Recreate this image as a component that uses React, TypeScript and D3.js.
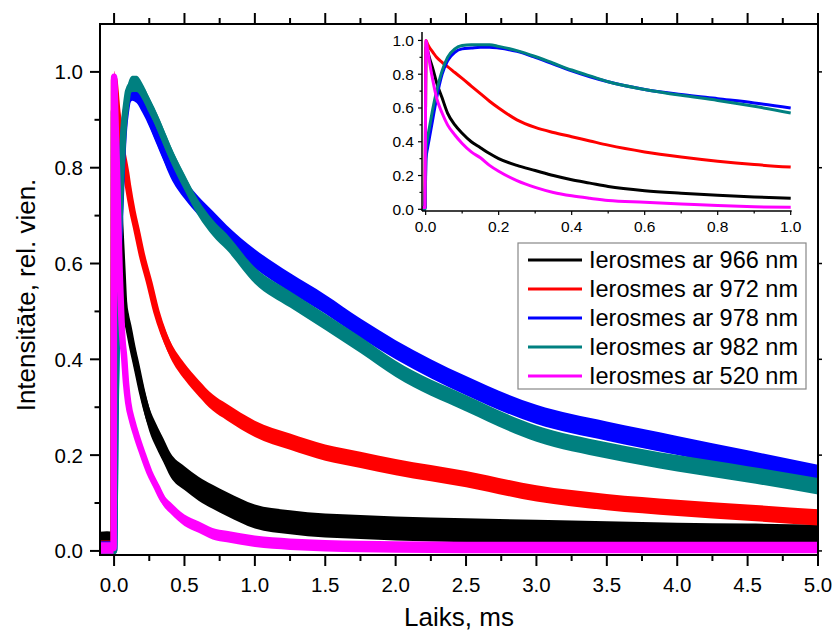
import React from 'react';
import * as d3 from 'd3';

// ---------- data ----------
const seriesNames = [
  'Ierosmes ar 966 nm',
  'Ierosmes ar 972 nm',
  'Ierosmes ar 978 nm',
  'Ierosmes ar 982 nm',
  'Ierosmes ar 520 nm',
];
const seriesColors = ['#000000', '#ff0000', '#0000ff', '#008080', '#ff00ff'];

// main plot, time in ms
const mainTime = [-0.1, -0.05, -0.003, 0.0, 0.01, 0.02, 0.03, 0.04, 0.05, 0.06, 0.07, 0.085, 0.1, 0.13, 0.16, 0.2, 0.25, 0.3, 0.35, 0.4, 0.5, 0.6, 0.7, 0.8, 1.0, 1.25, 1.5, 1.75, 2.0, 2.5, 3.0, 3.5, 4.0, 4.5, 5.0];
const main966 = [0.015, 0.016, 0.015, 0.92, 0.88, 0.82, 0.76, 0.7, 0.64, 0.58, 0.52, 0.49, 0.47, 0.425, 0.385, 0.33, 0.275, 0.24, 0.21, 0.18, 0.152, 0.13, 0.113, 0.098, 0.072, 0.06, 0.053, 0.05, 0.047, 0.043, 0.04, 0.037, 0.034, 0.032, 0.03];
const main972 = [0.005, 0.005, 0.005, 0.985, 0.96, 0.925, 0.9, 0.875, 0.85, 0.83, 0.815, 0.79, 0.76, 0.71, 0.67, 0.615, 0.56, 0.5, 0.455, 0.42, 0.375, 0.34, 0.31, 0.29, 0.255, 0.228, 0.205, 0.19, 0.175, 0.15, 0.12, 0.102, 0.09, 0.08, 0.07];
const main978 = [0.0, 0.0, 0.0, 0.0, 0.28, 0.47, 0.6, 0.68, 0.76, 0.83, 0.88, 0.92, 0.945, 0.96, 0.955, 0.935, 0.905, 0.87, 0.835, 0.8, 0.755, 0.72, 0.69, 0.66, 0.61, 0.56, 0.515, 0.465, 0.42, 0.345, 0.285, 0.25, 0.22, 0.19, 0.16];
const main982 = [0.0, 0.0, 0.0, 0.0, 0.3, 0.5, 0.62, 0.7, 0.78, 0.84, 0.89, 0.93, 0.96, 0.975, 0.975, 0.96, 0.93, 0.9, 0.865, 0.83, 0.77, 0.715, 0.675, 0.645, 0.575, 0.525, 0.478, 0.43, 0.38, 0.308, 0.245, 0.21, 0.183, 0.16, 0.135];
const main520 = [0.006, 0.006, 0.006, 0.99, 0.9, 0.8, 0.68, 0.58, 0.5, 0.44, 0.41, 0.35, 0.31, 0.27, 0.24, 0.205, 0.165, 0.135, 0.106, 0.09, 0.064, 0.05, 0.036, 0.03, 0.02, 0.014, 0.011, 0.009, 0.008, 0.007, 0.007, 0.007, 0.007, 0.007, 0.007];
// half-height of the noise band of each trace, in intensity units
const mainNoise = [0.025, 0.017, 0.02, 0.017, 0.012];

// inset plot (first millisecond)
const insetTime = [-0.01, -0.002, 0.001, 0.005, 0.01, 0.02, 0.03, 0.045, 0.06, 0.08, 0.1, 0.125, 0.15, 0.175, 0.2, 0.25, 0.3, 0.35, 0.4, 0.45, 0.5, 0.6, 0.7, 0.8, 0.9, 1.0];
const inset966 = [0.01, 0.01, 0.96, 0.94, 0.9, 0.83, 0.75, 0.66, 0.57, 0.5, 0.45, 0.4, 0.365, 0.33, 0.3, 0.26, 0.23, 0.2, 0.175, 0.155, 0.135, 0.11, 0.095, 0.083, 0.073, 0.065];
const inset972 = [0.01, 0.01, 1.0, 0.98, 0.96, 0.93, 0.9, 0.87, 0.845, 0.81, 0.775, 0.73, 0.685, 0.64, 0.6, 0.53, 0.485, 0.455, 0.43, 0.405, 0.38, 0.34, 0.31, 0.285, 0.265, 0.25];
const inset978 = [0.0, 0.0, 0.3, 0.36, 0.42, 0.54, 0.66, 0.8, 0.88, 0.93, 0.95, 0.955, 0.96, 0.96, 0.955, 0.935, 0.9, 0.86, 0.82, 0.785, 0.755, 0.71, 0.68, 0.655, 0.63, 0.6];
const inset982 = [0.0, 0.0, 0.35, 0.42, 0.48, 0.6, 0.7, 0.82, 0.9, 0.95, 0.97, 0.975, 0.975, 0.975, 0.965, 0.94, 0.905, 0.865, 0.825, 0.79, 0.755, 0.71, 0.675, 0.645, 0.61, 0.57];
const inset520 = [0.01, 0.01, 1.0, 0.95, 0.88, 0.76, 0.66, 0.57, 0.5, 0.44, 0.39, 0.34, 0.305, 0.26, 0.225, 0.17, 0.13, 0.1, 0.08, 0.065, 0.052, 0.042, 0.032, 0.022, 0.015, 0.012];

const mainXTicks = [0, 0.5, 1.0, 1.5, 2.0, 2.5, 3.0, 3.5, 4.0, 4.5, 5.0];
const mainXMinor = [0.25, 0.75, 1.25, 1.75, 2.25, 2.75, 3.25, 3.75, 4.25, 4.75];
const mainYTicks = [0, 0.2, 0.4, 0.6, 0.8, 1.0];
const mainYMinor = [0.1, 0.3, 0.5, 0.7, 0.9];
const insetXTicks = [0, 0.2, 0.4, 0.6, 0.8, 1.0];
const insetXMinor = [0.1, 0.3, 0.5, 0.7, 0.9];
const insetYTicks = [0, 0.2, 0.4, 0.6, 0.8, 1.0];
const insetYMinor = [0.1, 0.3, 0.5, 0.7, 0.9];

const xTitle = 'Laiks, ms';
const yTitle = 'Intensitāte, rel. vien.';

const mainSeries = [main966, main972, main978, main982, main520];
const insetSeries = [inset966, inset972, inset978, inset982, inset520];

const FONT = 'Liberation Sans, Arial, sans-serif';

export default function App() {
  const L = 100, R = 818, T = 24, B = 555;
  const x = d3.scaleLinear().domain([-0.1, 5.0]).range([L, R]);
  const y = d3.scaleLinear().domain([-0.0085, 1.1]).range([B, T]);

  const iL = 422, iR = 790.7, iT = 32, iB = 211;
  const ix = d3.scaleLinear().domain([-0.01, 1.0]).range([iL, iR]);
  const iy = d3.scaleLinear().domain([-0.01, 1.05]).range([iB, iT]);

  const mainLine = (vals: number[]) =>
    d3.line<number>().x((_, i) => x(mainTime[i])).y((v) => y(v)).curve(d3.curveMonotoneX)(vals) || '';
  const mainBand = (vals: number[], h: number) =>
    d3.area<number>().x((_, i) => x(mainTime[i])).y0((v) => y(v - h)).y1((v) => y(v + h)).curve(d3.curveMonotoneX)(vals) || '';
  const insetLine = (vals: number[]) =>
    d3.line<number>().x((_, i) => ix(insetTime[i])).y((v) => iy(v)).curve(d3.curveMonotoneX)(vals) || '';

  const legX = 518, legY = 243, legW = 288, legH = 146, legStep = 29;

  return (
    <svg width={835} height={634} style={{ position: 'absolute', left: 0, top: 0, background: '#fff' }} fontFamily={FONT}>
      <defs>
        <clipPath id="mainClip">
          <rect x={L} y={T} width={R - L} height={B - T} />
        </clipPath>
        <clipPath id="insetClip">
          <rect x={iL} y={iT - 5} width={iR - iL + 4} height={iB - iT + 5} />
        </clipPath>
      </defs>
      <rect x={0} y={0} width={835} height={634} fill="#fff" />

      {/* main curves: noise band + trace */}
      <g clipPath="url(#mainClip)">
        {mainSeries.map((s, k) => (
          <g key={k}>
            <path d={mainBand(s, mainNoise[k])} fill={seriesColors[k]} stroke="none" />
            <path d={mainLine(s)} fill="none" stroke={seriesColors[k]} strokeWidth={6.5} strokeLinejoin="round" />
          </g>
        ))}
      </g>

      {/* main frame */}
      <rect x={L} y={T} width={R - L} height={B - T} fill="none" stroke="#000" strokeWidth={2} />

      {mainXTicks.map((t) => (
        <g key={'bx' + t}>
          <line x1={x(t)} x2={x(t)} y1={B} y2={B + 11} stroke="#000" strokeWidth={2} />
          <line x1={x(t)} x2={x(t)} y1={T} y2={T - 11} stroke="#000" strokeWidth={2} />
          <text x={x(t)} y={592} fontSize={20.5} textAnchor="middle">{t.toFixed(1)}</text>
        </g>
      ))}
      {mainXMinor.map((t) => (
        <g key={'bm' + t}>
          <line x1={x(t)} x2={x(t)} y1={B} y2={B + 6} stroke="#000" strokeWidth={2} />
          <line x1={x(t)} x2={x(t)} y1={T} y2={T - 6} stroke="#000" strokeWidth={2} />
        </g>
      ))}
      {mainYTicks.map((v) => (
        <g key={'ly' + v}>
          <line x1={L} x2={L - 10} y1={y(v)} y2={y(v)} stroke="#000" strokeWidth={2} />
          <line x1={R} x2={R + 4} y1={y(v)} y2={y(v)} stroke="#000" strokeWidth={1.5} />
          <text x={83} y={y(v) + 7.5} fontSize={20.5} textAnchor="end">{v.toFixed(1)}</text>
        </g>
      ))}
      {mainYMinor.map((v) => (
        <line key={'lm' + v} x1={L} x2={L - 5.5} y1={y(v)} y2={y(v)} stroke="#000" strokeWidth={2} />
      ))}

      {/* axis titles */}
      <text x={(L + R) / 2} y={626} fontSize={26} textAnchor="middle">{xTitle}</text>
      <text transform={`translate(35,295) rotate(-90)`} fontSize={26} textAnchor="middle">{yTitle}</text>

      {/* inset */}
      <g clipPath="url(#insetClip)">
        {insetSeries.map((s, k) => (
          <path key={k} d={insetLine(s)} fill="none" stroke={seriesColors[k]} strokeWidth={3} strokeLinejoin="round" />
        ))}
      </g>
      <line x1={iL} x2={iL} y1={iT} y2={iB} stroke="#000" strokeWidth={1.5} />
      <line x1={iL} x2={iR + 1} y1={iB} y2={iB} stroke="#000" strokeWidth={1.5} />
      {insetXTicks.map((t) => (
        <g key={'ix' + t}>
          <line x1={ix(t)} x2={ix(t)} y1={iB} y2={iB + 4} stroke="#000" strokeWidth={1.2} />
          <text x={ix(t)} y={232} fontSize={15.5} textAnchor="middle">{t.toFixed(1)}</text>
        </g>
      ))}
      {insetXMinor.map((t) => (
        <line key={'ixm' + t} x1={ix(t)} x2={ix(t)} y1={iB} y2={iB + 2.5} stroke="#000" strokeWidth={1.2} />
      ))}
      {insetYTicks.map((v) => (
        <g key={'iy' + v}>
          <line x1={iL} x2={iL - 4} y1={iy(v)} y2={iy(v)} stroke="#000" strokeWidth={1.2} />
          <text x={414} y={iy(v) + 5.5} fontSize={15.5} textAnchor="end">{v.toFixed(1)}</text>
        </g>
      ))}
      {insetYMinor.map((v) => (
        <line key={'iym' + v} x1={iL} x2={iL - 2.5} y1={iy(v)} y2={iy(v)} stroke="#000" strokeWidth={1.2} />
      ))}

      {/* legend */}
      <rect x={legX} y={legY} width={legW} height={legH} fill="#fff" stroke="#888" strokeWidth={1.2} />
      {seriesNames.map((n, k) => {
        const cy = 260 + k * legStep;
        return (
          <g key={n}>
            <line x1={528} x2={582} y1={cy} y2={cy} stroke={seriesColors[k]} strokeWidth={3} />
            <text x={589} y={cy + 8.3} fontSize={23.5}>{n}</text>
          </g>
        );
      })}
    </svg>
  );
}
